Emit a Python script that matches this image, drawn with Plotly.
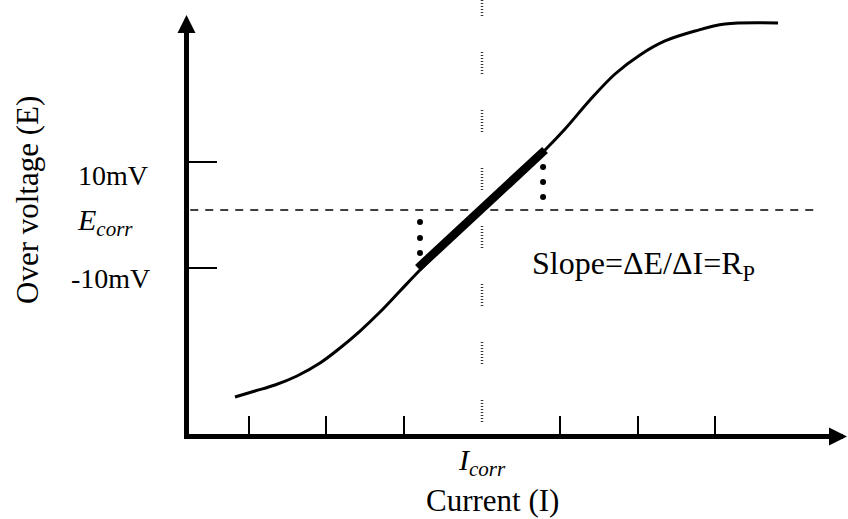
import plotly.graph_objects as go

# ---- data (schematic polarisation curve) ----
# current in arbitrary units (I_corr = 0), over-voltage in mV (E_corr = 0)
CURRENT = [-3.175, -2.918, -2.661, -2.378, -2.082, -1.825, -1.568, -1.311, -1.054,
           -0.797, -0.411, 0.0, 0.424, 0.810, 1.067, 1.388, 1.710, 2.031, 2.352,
           2.738, 3.123, 3.805]
VOLTAGE = [-35.28, -34.15, -33.02, -31.32, -28.87, -26.04, -22.83, -19.25, -15.28,
           -11.32, -5.66, 0.0, 5.85, 11.32, 15.28, 20.75, 25.66, 29.25, 31.89,
           33.77, 35.09, 35.28]

LINEAR_I = [-0.823, 0.810]          # linear (Rp) region
LINEAR_E = [-10.94, 11.32]

DOTS_LEFT_I = [-0.797, -0.797, -0.797, -0.797]
DOTS_LEFT_E = [-2.26, -5.28, -8.11, -10.38]
DOTS_RIGHT_I = [0.785, 0.785, 0.785]
DOTS_RIGHT_E = [8.11, 5.28, 2.45]

I_CORR = 0.0
E_CORR = 0.0

X_TICKS = [-3, -2, -1, 1, 2, 3]
Y_TICK_VALS = [9, -11]
Y_TICK_TEXT = ["10mV", "-10mV"]

X_RANGE = [-3.766, 4.640]
Y_RANGE = [-42.26, 35.66]
ECORR_LINE_X = [-3.75, 4.344]

W, H = 848, 519
FONT = "Liberation Serif, Times New Roman, serif"

fig = go.Figure()

fig.add_trace(go.Scatter(x=CURRENT, y=VOLTAGE, mode="lines",
                         line=dict(color="black", width=3, shape="spline"),
                         hoverinfo="skip"))
fig.add_trace(go.Scatter(x=LINEAR_I, y=LINEAR_E, mode="lines",
                         line=dict(color="black", width=8.5), hoverinfo="skip"))
fig.add_trace(go.Scatter(x=DOTS_LEFT_I + DOTS_RIGHT_I, y=DOTS_LEFT_E + DOTS_RIGHT_E,
                         mode="markers", marker=dict(color="black", size=6),
                         hoverinfo="skip"))

# E_corr dashed line
fig.add_trace(go.Scatter(x=ECORR_LINE_X, y=[E_CORR, E_CORR], mode="lines",
                         line=dict(color="black", width=1.5, dash="8px,7px"),
                         hoverinfo="skip"))

dot_dash = ",".join(["1px,2px"] * 7) + ",1px,36px"
fig.add_shape(type="line", xref="x", yref="paper", x0=I_CORR, x1=I_CORR,
              y0=1 + 6 / H, y1=1 - 423 / H,
              line=dict(color="#333333", width=2.5, dash=dot_dash))

xdom = [189 / W, 843 / W]
ydom = [1 - 434 / H, 1 - 21 / H]

fig.update_layout(
    width=W, height=H, autosize=False,
    margin=dict(l=0, r=0, t=0, b=0, pad=0),
    paper_bgcolor="white", plot_bgcolor="white",
    showlegend=False,
    xaxis=dict(domain=xdom, range=X_RANGE, showgrid=False, zeroline=False,
               showline=True, linecolor="black", linewidth=5,
               tickmode="array", tickvals=X_TICKS, ticks="inside", ticklen=18,
               tickwidth=1.5, tickcolor="black", showticklabels=False),
    yaxis=dict(domain=ydom, range=Y_RANGE, showgrid=False, zeroline=False,
               showline=True, linecolor="black", linewidth=5,
               tickmode="array", tickvals=Y_TICK_VALS, ticks="inside", ticklen=28,
               tickwidth=1.5, tickcolor="black", showticklabels=False),
)

ann = []
# axis arrowheads
ann.append(dict(xref="paper", yref="paper", x=186.5 / W, y=1 - 15 / H, text="",
                showarrow=True, ax=0, ay=40, arrowhead=2, arrowwidth=5,
                arrowsize=0.72, arrowcolor="black", standoff=0))
ann.append(dict(xref="paper", yref="paper", x=848 / W, y=1 - 436.5 / H, text="",
                showarrow=True, ax=-40, ay=0, arrowhead=2, arrowwidth=5,
                arrowsize=0.72, arrowcolor="black", standoff=0))

tf = dict(family=FONT, size=28, color="black")
ann.append(dict(xref="paper", yref="y", x=150 / W, y=Y_TICK_VALS[0], yshift=-13,
                text=Y_TICK_TEXT[0], showarrow=False, xanchor="right",
                yanchor="middle", font=tf))
ann.append(dict(xref="paper", yref="y", x=152 / W, y=Y_TICK_VALS[1], yshift=-10,
                text=Y_TICK_TEXT[1], showarrow=False, xanchor="right",
                yanchor="middle", font=tf))
ann.append(dict(xref="paper", yref="y", x=135 / W, y=E_CORR, yshift=-12,
                text="<i>E<sub>corr</sub></i>", showarrow=False, xanchor="right",
                yanchor="middle", font=dict(family=FONT, size=30, color="black")))
ann.append(dict(xref="paper", yref="paper", x=28 / W, y=1 - 200 / H,
                text="Over voltage (E)", textangle=-90, showarrow=False,
                xanchor="center", yanchor="middle",
                font=dict(family=FONT, size=31, color="black")))
ann.append(dict(xref="x", yref="paper", x=I_CORR, y=1 - 462 / H,
                text="<i>I<sub>corr</sub></i>", showarrow=False, xanchor="center",
                yanchor="middle", font=dict(family=FONT, size=30, color="black")))
ann.append(dict(xref="paper", yref="paper", x=492 / W, y=1 - 500 / H,
                text="Current (I)", showarrow=False, xanchor="center",
                yanchor="middle", font=dict(family=FONT, size=31, color="black")))
ann.append(dict(xref="paper", yref="paper", x=530 / W, y=1 - 265 / H,
                text="Slope=ΔE/ΔI=R<sub>P</sub>", showarrow=False, xanchor="left",
                yanchor="middle", font=dict(family=FONT, size=32, color="black")))

fig.update_layout(annotations=ann)

fig.write_html("out.html")
